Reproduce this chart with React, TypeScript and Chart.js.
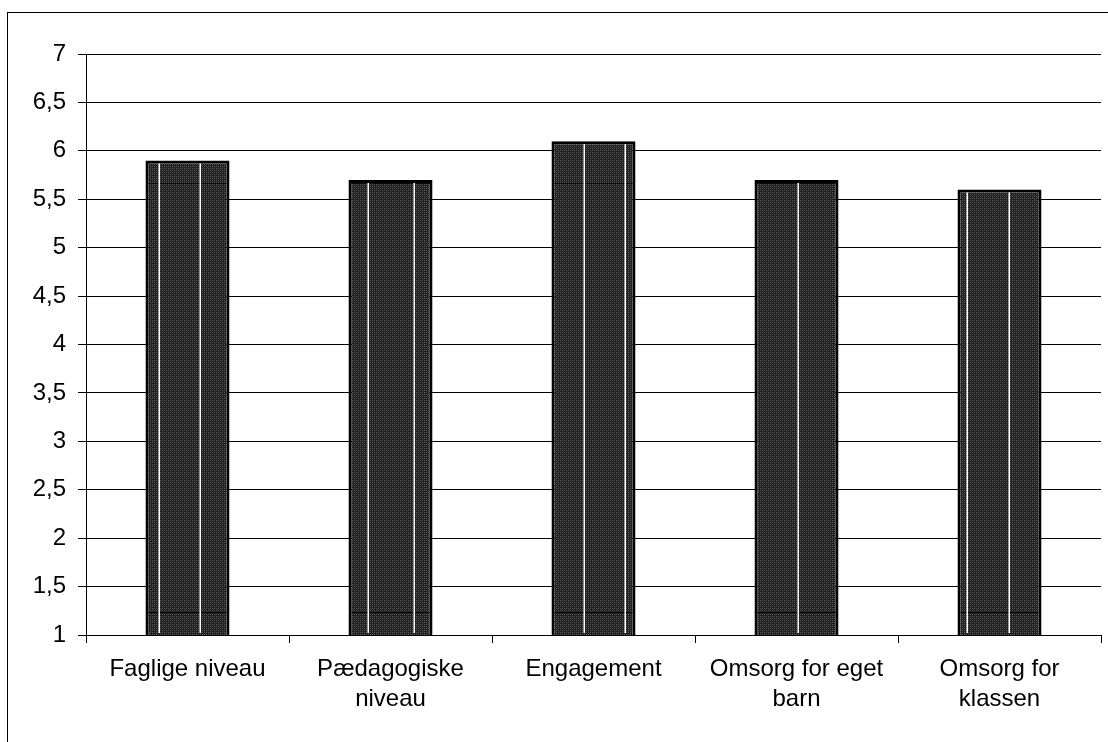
import React, { useEffect, useRef } from "react";
import { Chart, registerables } from "chart.js";

Chart.register(...registerables);

const categories: (string | string[])[] = [
  "Faglige niveau",
  ["Pædagogiske", "niveau"],
  "Engagement",
  ["Omsorg for eget", "barn"],
  ["Omsorg for", "klassen"],
];
const values: number[] = [5.9, 5.7, 6.1, 5.7, 5.6];
const yMin = 1;
const yMax = 7;
const yStep = 0.5;
// decorative white stripes inside each bar (fraction of bar width)
const stripeFractions: number[][] = [
  [0.155, 0.643],
  [0.229, 0.783],
  [0.386, 0.88],
  [0.512],
  [0.116, 0.614],
];
// decorative dark texture seams inside bars (axis values)
const seamValues: number[] = [1.24, 5.67];

function makePattern(): CanvasPattern | string {
  const c = document.createElement("canvas");
  c.width = 4;
  c.height = 4;
  const ctx = c.getContext("2d");
  if (!ctx) return "#333";
  ctx.fillStyle = "#1c1c1c";
  ctx.fillRect(0, 0, 4, 4);
  ctx.fillStyle = "#5a5a5a";
  ctx.fillRect(0, 0, 1, 1);
  ctx.fillRect(2, 0, 1, 1);
  ctx.fillRect(0, 2, 1, 1);
  ctx.fillRect(2, 2, 1, 1);
  ctx.fillStyle = "#363636";
  ctx.fillRect(1, 1, 1, 1);
  ctx.fillRect(3, 3, 1, 1);
  const p = ctx.createPattern(c, "repeat");
  return p || "#333";
}

const barDecor = {
  id: "barDecor",
  afterDatasetsDraw(chart: any) {
    const ctx = chart.ctx;
    const meta = chart.getDatasetMeta(0);
    const ys = chart.scales.y;
    const bottom = ys.getPixelForValue(ys.min);
    ctx.save();
    meta.data.forEach((bar: any, i: number) => {
      const x = bar.x;
      const top = bar.y;
      const width = bar.width;
      const left = x - width / 2;
      ctx.strokeStyle = "#0a0a0a";
      ctx.lineWidth = 1;
      seamValues.forEach((v) => {
        const py = Math.round(ys.getPixelForValue(v)) + 0.5;
        if (py > top + 3 && py < bottom - 3) {
          ctx.beginPath();
          ctx.moveTo(left + 3, py);
          ctx.lineTo(left + width - 3, py);
          ctx.stroke();
        }
      });
      ctx.strokeStyle = "#ffffff";
      ctx.lineWidth = 1.5;
      (stripeFractions[i] || []).forEach((f) => {
        const lx = Math.round(left + width * f) + 0.25;
        ctx.beginPath();
        ctx.moveTo(lx, top + 3);
        ctx.lineTo(lx, bottom - 2);
        ctx.stroke();
      });
    });
    ctx.restore();
  },
};

export default function App() {
  const ref = useRef<HTMLCanvasElement>(null);
  useEffect(() => {
    if (!ref.current) return;
    const font = { family: "'Liberation Sans', Arial, sans-serif", size: 24, lineHeight: 1.27 };
    const chart = new Chart(ref.current, {
      type: "bar",
      data: {
        labels: categories,
        datasets: [
          {
            data: values,
            backgroundColor: makePattern() as any,
            borderColor: "#000000",
            borderWidth: 3,
            borderSkipped: false,
            categoryPercentage: 1,
            barPercentage: 0.414,
          },
        ],
      },
      options: {
        animation: false,
        responsive: false,
        devicePixelRatio: 1,
        layout: { padding: { left: 0, top: 54, right: 7, bottom: 0 } },
        plugins: { legend: { display: false }, tooltip: { enabled: false } },
        scales: {
          x: {
            offset: true,
            grid: {
              display: true,
              offset: true,
              drawOnChartArea: false,
              drawTicks: true,
              tickLength: 8,
              color: "#000000",
              lineWidth: 1,
            },
            border: { display: true, color: "#000000", width: 1 },
            ticks: { color: "#000000", font, padding: 11, maxRotation: 0, autoSkip: false },
            afterFit(scale: any) {
              scale.height = 107;
            },
          },
          y: {
            min: yMin,
            max: yMax,
            grid: { color: "#000000", lineWidth: 1, tickLength: 8, drawTicks: true },
            border: { display: true, color: "#000000", width: 1 },
            ticks: {
              stepSize: yStep,
              color: "#000000",
              font,
              padding: 12,
              callback: (v: any) => String(v).replace(".", ","),
            },
            afterFit(scale: any) {
              scale.width = 86;
            },
          },
        },
      },
      plugins: [barDecor],
    });
    return () => chart.destroy();
  }, []);
  return (
    <div style={{ position: "fixed", left: 0, top: 0, width: 1108, height: 742, background: "#fff", overflow: "hidden" }}>
      <canvas ref={ref} width={1108} height={742} style={{ position: "absolute", left: 0, top: 0 }} />
      <div
        style={{
          position: "absolute",
          left: 7,
          top: 12,
          width: 1120,
          height: 760,
          border: "1px solid #000",
          boxSizing: "border-box",
          pointerEvents: "none",
        }}
      />
    </div>
  );
}
